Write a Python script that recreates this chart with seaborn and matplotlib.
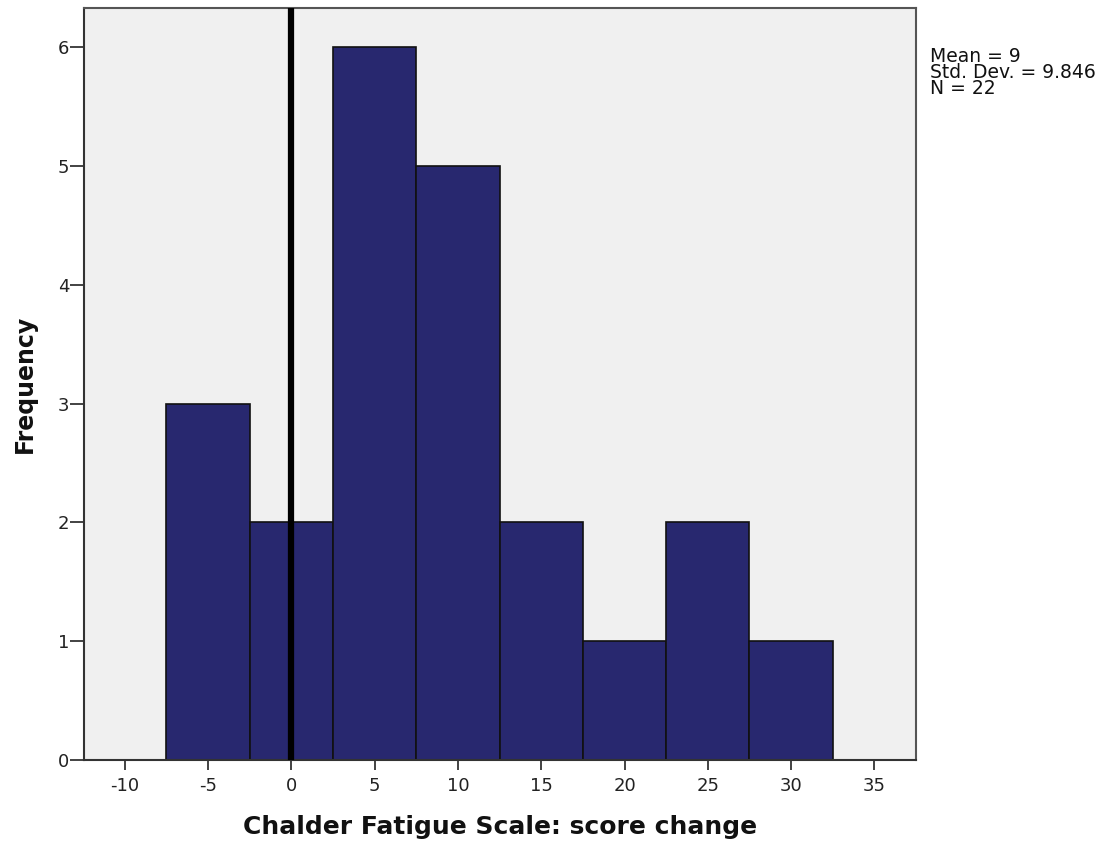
import matplotlib
matplotlib.use("Agg")
import matplotlib.pyplot as plt
import seaborn as sns
import numpy as np

bin_edges = [-7.5, -2.5, 2.5, 7.5, 12.5, 17.5, 22.5, 27.5, 32.5]
bin_centers = [-5, 0, 5, 10, 15, 20, 25, 30]
counts = [3, 2, 6, 5, 2, 1, 2, 1]
x_ticks = [-10, -5, 0, 5, 10, 15, 20, 25, 30, 35]
y_ticks = [0, 1, 2, 3, 4, 5, 6]
stats_text = "Mean = 9\nStd. Dev. = 9.846\nN = 22"

sns.set_theme(style="ticks")
plt.rcParams['font.family'] = ['DejaVu Sans']
plt.rcParams['axes.unicode_minus'] = False

fig = plt.figure(figsize=(11.01, 8.47), dpi=100)
ax = fig.add_axes([0.0763, 0.1027, 0.7557, 0.888])
ax.set_facecolor("#F0F0F0")

sns.histplot(x=bin_centers, weights=counts, bins=bin_edges, ax=ax,
             color="#28286F", alpha=1, edgecolor="#111111", linewidth=1.2)

ax.axvline(0, color="black", linewidth=4.5, zorder=5)

ax.set_xlim(-12.45, 37.5)
ax.set_ylim(0, 6.33)
ax.set_xticks(x_ticks)
ax.set_yticks(y_ticks)
ax.tick_params(axis='both', labelsize=13, direction='out', width=1.2, colors="#222222")
ax.tick_params(axis='x', pad=5, length=7.5)
ax.tick_params(axis='y', pad=0.5, length=10)
for s in ax.spines.values():
    s.set_visible(True)
    s.set_color("#555555")
    s.set_linewidth(1.5)
ax.spines['left'].set_color("#333333")
ax.spines['bottom'].set_color("#333333")

ax.set_xlabel("Chalder Fatigue Scale: score change", fontsize=18, fontweight='bold', labelpad=14, color="#111111")
ax.set_ylabel("Frequency", fontsize=17, fontweight='bold', labelpad=15, color="#111111")

fig.text(0.845, 0.944, stats_text, fontsize=13.5, va='top', ha='left', linespacing=0.78, color="#111111")

fig.savefig("out.png", dpi=100)
